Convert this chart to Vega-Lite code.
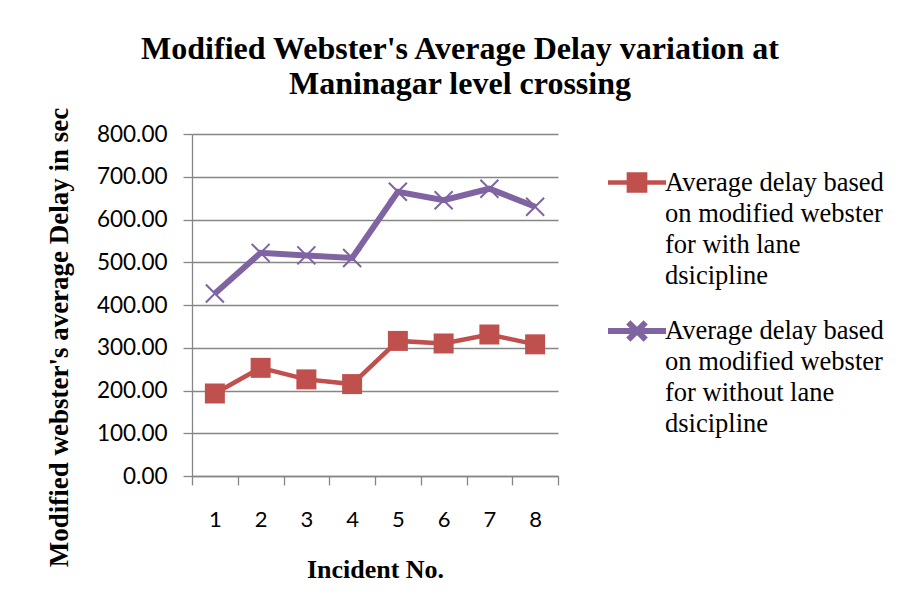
{
  "$schema": "https://vega.github.io/schema/vega-lite/v6.json",
  "autosize": "none",
  "width": 366,
  "height": 342,
  "padding": {"left": 192, "top": 134, "right": 339, "bottom": 133},
  "background": "white",
  "title": {
    "text": ["Modified Webster's Average Delay variation at", "Maninagar level crossing"],
    "font": "Liberation Serif",
    "fontSize": 32,
    "fontWeight": "bold",
    "color": "black",
    "lineHeight": 35,
    "anchor": "middle",
    "dx": 85,
    "offset": 6
  },
  "data": {
    "values": [
      {"incident": "1", "series": "with", "delay": 193},
      {"incident": "2", "series": "with", "delay": 253},
      {"incident": "3", "series": "with", "delay": 226},
      {"incident": "4", "series": "with", "delay": 215},
      {"incident": "5", "series": "with", "delay": 316},
      {"incident": "6", "series": "with", "delay": 310},
      {"incident": "7", "series": "with", "delay": 331},
      {"incident": "8", "series": "with", "delay": 308},
      {"incident": "1", "series": "without", "delay": 427},
      {"incident": "2", "series": "without", "delay": 522},
      {"incident": "3", "series": "without", "delay": 516},
      {"incident": "4", "series": "without", "delay": 510},
      {"incident": "5", "series": "without", "delay": 665},
      {"incident": "6", "series": "without", "delay": 645},
      {"incident": "7", "series": "without", "delay": 672},
      {"incident": "8", "series": "without", "delay": 630}
    ]
  },
  "encoding": {
    "x": {
      "field": "incident",
      "type": "ordinal",
      "scale": {"type": "band", "paddingInner": 0, "paddingOuter": 0},
      "axis": {
        "title": "Incident No.",
        "titleFont": "Liberation Serif",
        "titleFontSize": 26,
        "titleFontWeight": "bold",
        "titleColor": "black",
        "titlePadding": 26,
        "labelAngle": 0,
        "labelFont": "Lato",
        "labelFontSize": 22,
        "labelColor": "black",
        "labelPadding": 24,
        "tickBand": "extent",
        "tickSize": 9,
        "tickColor": "#868686",
        "tickWidth": 1.3,
        "domainColor": "#868686",
        "domainWidth": 1.3,
        "grid": false
      }
    },
    "y": {
      "field": "delay",
      "type": "quantitative",
      "scale": {"domain": [0, 800], "nice": false},
      "axis": {
        "title": "Modified webster's average Delay in sec",
        "titleFont": "Liberation Serif",
        "titleFontSize": 27,
        "titleFontWeight": "bold",
        "titleColor": "black",
        "titlePadding": 23,
        "titleY": 203,
        "values": [0, 100, 200, 300, 400, 500, 600, 700, 800],
        "format": ".2f",
        "labelFont": "Lato",
        "labelFontSize": 22.5,
        "labelColor": "black",
        "labelPadding": 16,
        "tickSize": 9,
        "tickColor": "#868686",
        "tickWidth": 1.3,
        "domainColor": "#868686",
        "domainWidth": 1.3,
        "grid": true,
        "gridColor": "#868686",
        "gridWidth": 1.3
      }
    }
  },
  "layer": [
    {
      "mark": {"type": "line"},
      "encoding": {
        "color": {
          "field": "series",
          "type": "nominal",
          "scale": {"domain": ["with", "without"], "range": ["#C0504D", "#8064A2"]},
          "legend": {
            "orient": "none",
            "legendX": 413,
            "legendY": 17,
            "title": null,
            "padding": 0,
            "labelExpr": "datum.value == 'with' ? ['Average delay based','on modified webster','for with lane','dsicipline'] : ['Average delay based','on modified webster','for without lane','dsicipline']",
            "labelFont": "Liberation Serif",
            "labelFontSize": 26.5,
            "labelColor": "black",
            "labelLimit": 400,
            "labelOffset": -4,
            "rowPadding": 10,
            "symbolSize": 3364,
            "symbolStrokeWidth": 4.5,
            "encode": {
              "symbols": {
                "update": {
                  "shape": {"signal": "datum.value == 'with' ? 'M-1,0H1M-0.28,-0.28H0.28V0.28H-0.28Z' : 'M-1,0H1M-0.3,-0.3L0.3,0.3M-0.3,0.3L0.3,-0.3'"},
                  "fill": {"signal": "datum.value == 'with' ? '#C0504D' : 'transparent'"},
                  "strokeWidth": {"value": 4.5}
                }
              },
              "labels": {
                "update": {"lineHeight": {"value": 31}}
              }
            }
          }
        },
        "strokeWidth": {
          "field": "series",
          "type": "nominal",
          "scale": {"domain": ["with", "without"], "range": [4.5, 6]},
          "legend": null
        }
      }
    },
    {
      "transform": [{"filter": "datum.series == 'with'"}],
      "mark": {"type": "point", "shape": "square", "filled": true, "size": 400, "color": "#C0504D", "opacity": 1}
    },
    {
      "transform": [{"filter": "datum.series == 'without'"}],
      "mark": {"type": "point", "shape": "M-1,-1L1,1M-1,1L1,-1", "filled": false, "size": 324, "stroke": "#8064A2", "strokeWidth": 2, "opacity": 1}
    }
  ],
  "config": {
    "view": {"stroke": null}
  }
}
